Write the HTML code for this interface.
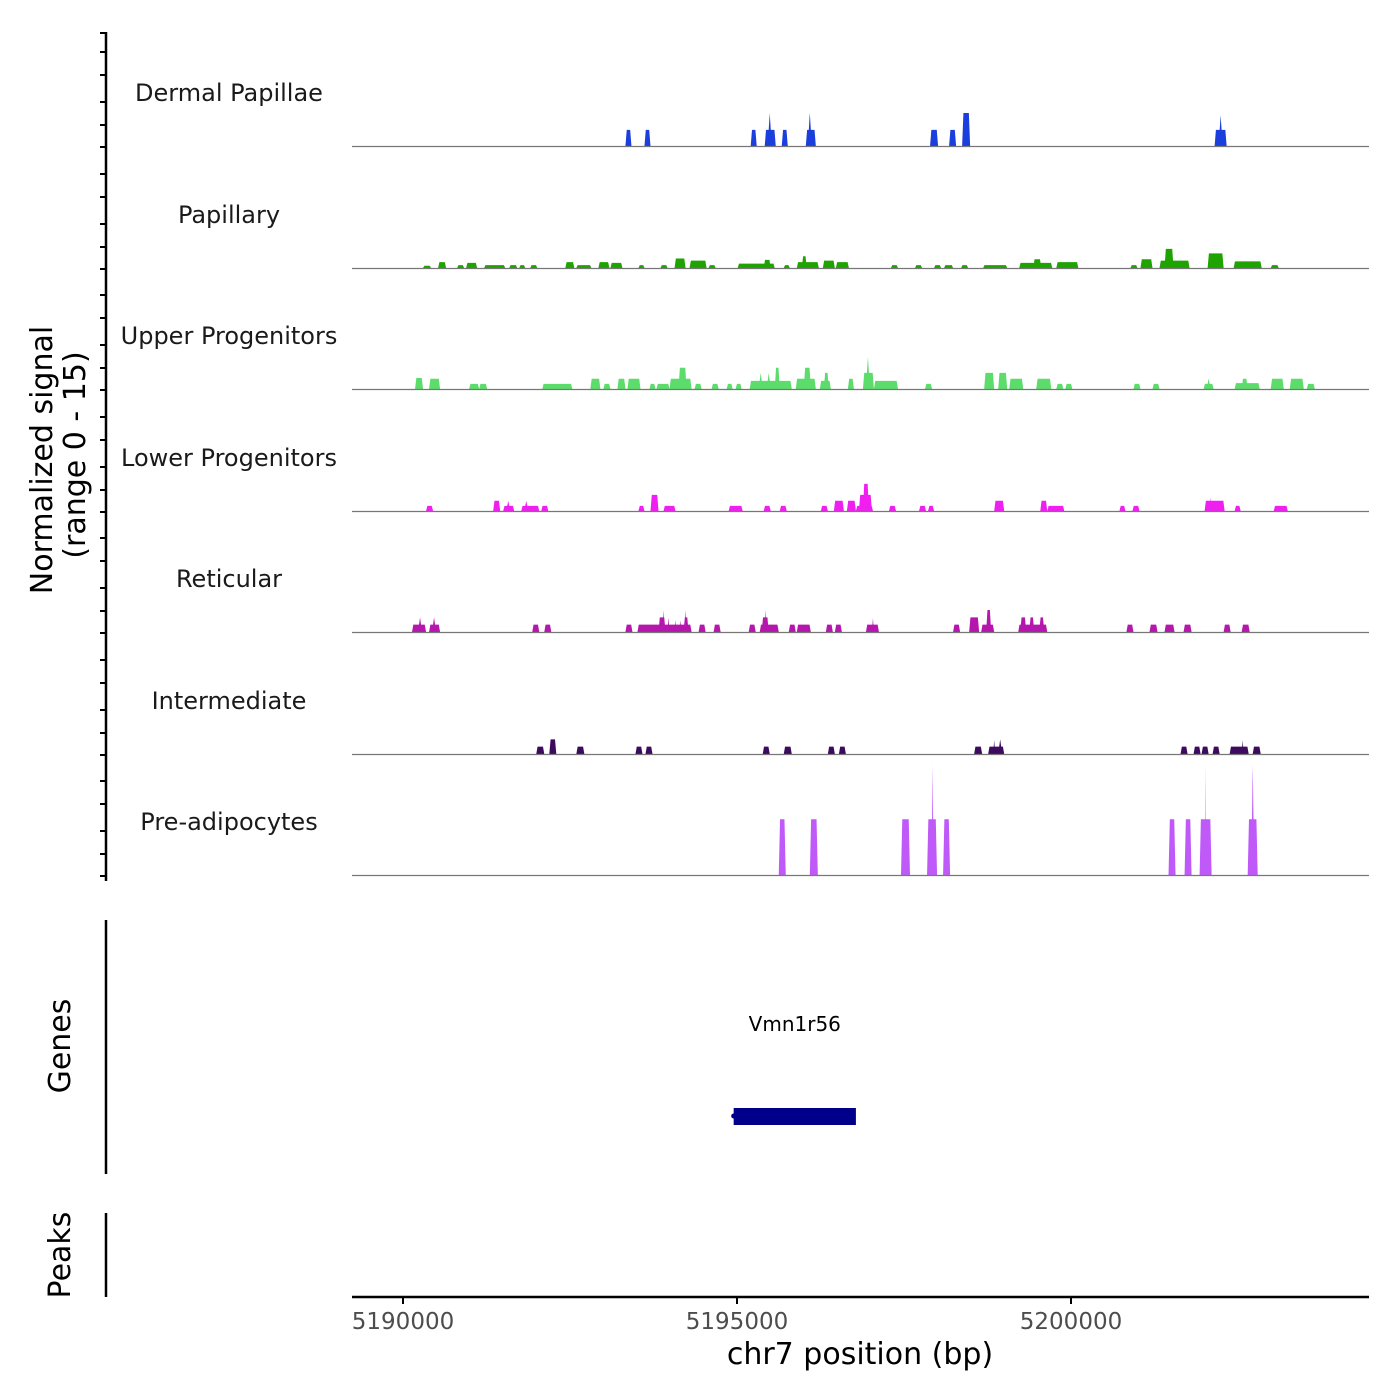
<!DOCTYPE html>
<html><head><meta charset="utf-8"><style>
html,body{margin:0;padding:0;background:#fff;}
svg{display:block;font-family:"DejaVu Sans","Liberation Sans",sans-serif;}
</style></head><body>
<svg id="chart" width="1400" height="1400" viewBox="0 0 1400 1400" xmlns="http://www.w3.org/2000/svg">
<g id="left-axes"></g>
<g id="tracks"></g>
<g id="genes"></g>
<g id="xaxis"></g>
<text x="0" y="0" transform="translate(52,460) rotate(-90)" text-anchor="middle" font-size="30" fill="#000">Normalized signal</text>
<text x="0" y="0" transform="translate(85,455) rotate(-90)" text-anchor="middle" font-size="30" fill="#000">(range 0 - 15)</text>
<text x="0" y="0" transform="translate(70,1046) rotate(-90)" text-anchor="middle" font-size="30" fill="#000">Genes</text>
<text x="0" y="0" transform="translate(70,1255) rotate(-90)" text-anchor="middle" font-size="30" fill="#000">Peaks</text>
</svg>
<script>
const NS = "http://www.w3.org/2000/svg";
// ---- data ----
const xTicks = [5190000, 5195000, 5200000];
const xTickLabels = ["5190000", "5195000", "5200000"];
const trackNames = ["Dermal Papillae","Papillary","Upper Progenitors","Lower Progenitors","Reticular","Intermediate","Pre-adipocytes"];
const trackColors = ["#1a3fdc","#1ea300","#5bdc6b","#f01ef0","#b516ab","#3c0b5e","#bf5af8"];
const yRange = [0, 15];
// peaks: [start bp, end bp, value]
const dermalPeaks = [[5193330,5193420,2.2],[5193615,5193705,2.2],[5195205,5195295,2.2],[5195415,5195580,2.2],[5195460,5195520,4.5],[5195670,5195760,2.2],[5196030,5196180,2.2],[5196060,5196120,4.5],[5197890,5198010,2.2],[5198175,5198280,2.2],[5198370,5198490,4.5],[5202150,5202330,2.2],[5202210,5202270,4.2]];
const papillaryPeaks = [[5190300,5190420,0.3],[5190525,5190645,0.8],[5190810,5190915,0.4],[5190945,5191110,0.7],[5191215,5191530,0.4],[5191590,5191710,0.4],[5191740,5191830,0.4],[5191905,5192010,0.4],[5192430,5192565,0.8],[5192595,5192820,0.4],[5192925,5193090,0.8],[5193105,5193285,0.7],[5193525,5193615,0.4],[5193855,5193960,0.4],[5194065,5194230,1.3],[5194290,5194545,1.0],[5194575,5194680,0.4],[5195010,5195565,0.6],[5195400,5195505,1.1],[5195700,5195790,0.4],[5195895,5196225,0.8],[5195970,5196045,1.6],[5196285,5196465,1.0],[5196480,5196675,0.8],[5197305,5197410,0.4],[5197665,5197770,0.4],[5197950,5198055,0.4],[5198100,5198235,0.4],[5198355,5198460,0.4],[5198685,5199045,0.4],[5199225,5199720,0.7],[5199435,5199555,1.2],[5199780,5200110,0.8],[5200890,5200995,0.4],[5201040,5201220,1.2],[5201325,5201775,1.0],[5201400,5201535,2.6],[5202045,5202285,2.0],[5202435,5202855,0.9],[5202990,5203110,0.4]];
const upperPeaks = [[5190180,5190300,1.5],[5190390,5190555,1.4],[5190990,5191140,0.7],[5191140,5191260,0.7],[5192085,5192535,0.7],[5192805,5192955,1.4],[5193000,5193105,0.7],[5193210,5193330,1.4],[5193360,5193555,1.4],[5193690,5193780,0.7],[5193795,5193990,0.7],[5193990,5194320,1.4],[5194125,5194245,2.9],[5194365,5194470,0.7],[5194620,5194725,0.7],[5194845,5194935,0.7],[5194980,5195070,0.7],[5195190,5195820,1.1],[5195325,5195385,2.2],[5195445,5195505,2.2],[5195565,5195640,2.9],[5195880,5196180,1.4],[5196000,5196105,2.9],[5196240,5196405,1.1],[5196300,5196375,2.2],[5196660,5196750,1.4],[5196885,5197050,2.2],[5196930,5196990,4.4],[5197050,5197410,1.1],[5197815,5197920,0.7],[5198700,5198850,2.2],[5198910,5199045,2.2],[5199075,5199285,1.4],[5199480,5199705,1.4],[5199780,5199885,0.7],[5199915,5200020,0.7],[5200935,5201040,0.7],[5201220,5201325,0.7],[5201985,5202135,0.7],[5202030,5202090,1.4],[5202450,5202825,0.8],[5202555,5202645,1.4],[5202990,5203185,1.4],[5203275,5203485,1.4],[5203530,5203650,0.7]];
const lowerPeaks = [[5190345,5190450,0.7],[5191350,5191455,1.4],[5191500,5191665,0.7],[5191545,5191605,1.4],[5191770,5192040,0.7],[5191815,5191875,1.4],[5192070,5192175,0.7],[5193525,5193615,0.7],[5193705,5193825,2.2],[5193900,5194080,0.7],[5194875,5195085,0.7],[5195400,5195505,0.7],[5195640,5195745,0.7],[5196255,5196360,0.7],[5196450,5196600,1.4],[5196645,5196780,1.4],[5196780,5197035,0.7],[5196825,5197020,2.2],[5196885,5196975,3.7],[5197275,5197380,0.7],[5197725,5197830,0.7],[5197860,5197950,0.7],[5198850,5199000,1.4],[5199540,5199645,1.4],[5199645,5199900,0.7],[5200725,5200815,0.7],[5200920,5201025,0.7],[5202000,5202300,1.4],[5202075,5202105,1.9],[5202450,5202540,0.7],[5203035,5203245,0.7]];
const reticularPeaks = [[5190135,5190345,1.0],[5190225,5190285,2.0],[5190390,5190555,1.0],[5190435,5190495,2.0],[5191935,5192040,1.0],[5192115,5192220,1.0],[5193330,5193435,1.0],[5193510,5194320,1.0],[5193825,5193930,2.0],[5193885,5193915,3.0],[5193960,5193990,2.0],[5194065,5194095,1.6],[5194140,5194170,1.6],[5194200,5194275,2.0],[5194215,5194245,3.0],[5194425,5194530,1.0],[5194650,5194755,1.0],[5195175,5195280,1.0],[5195340,5195625,1.0],[5195370,5195475,2.0],[5195415,5195445,3.0],[5195775,5195880,1.0],[5195895,5196105,1.0],[5196330,5196435,1.0],[5196465,5196570,1.0],[5196930,5197125,1.0],[5197020,5197050,1.9],[5198235,5198340,1.0],[5198475,5198625,2.0],[5198655,5198850,1.0],[5198730,5198805,3.0],[5199210,5199645,1.0],[5199240,5199330,2.0],[5199375,5199450,2.0],[5199525,5199600,2.0],[5200830,5200935,1.0],[5201175,5201295,1.0],[5201400,5201550,1.0],[5201685,5201805,1.0],[5202285,5202390,1.0],[5202555,5202675,1.0]];
const intermediatePeaks = [[5191995,5192115,1.0],[5192190,5192295,2.0],[5192595,5192715,1.0],[5193480,5193585,1.0],[5193630,5193735,1.0],[5195385,5195490,1.0],[5195700,5195820,1.0],[5196360,5196465,1.0],[5196525,5196630,1.0],[5198550,5198670,1.0],[5198760,5199000,1.0],[5198835,5198865,1.9],[5198910,5198970,2.0],[5201640,5201745,1.0],[5201835,5201940,1.0],[5201955,5202060,1.0],[5202120,5202225,1.0],[5202375,5202660,1.0],[5202555,5202585,1.9],[5202720,5202840,1.0]];
const preadipocytePeaks = [[5195625,5195730,7.6],[5196090,5196210,7.6],[5197455,5197590,7.6],[5197845,5197995,7.6],[5197913,5197943,15],[5198085,5198190,7.6],[5201460,5201565,7.6],[5201700,5201805,7.6],[5201925,5202105,7.6],[5202008,5202023,15],[5202645,5202795,7.6],[5202698,5202743,15]];
const allPeaks = [dermalPeaks, papillaryPeaks, upperPeaks, lowerPeaks, reticularPeaks, intermediatePeaks, preadipocytePeaks];
const geneNames = ["Vmn1r56"];
const geneStarts = [5194950];
const geneEnds = [5196780];

// ---- scales / layout ----
const X0 = 352, X1 = 1369;
function xScale(bp){ return 403 + (bp - 5190000) * 334 / 5000; }
const trackBase = [146, 268, 389, 511, 632, 754, 875];
const trackH = 110;
function yScale(v, base){ return base - (v - yRange[0]) / (yRange[1] - yRange[0]) * trackH; }

const tracksG = document.getElementById('tracks');
const axesG = document.getElementById('left-axes');

function mk(tag, attrs, parent){
  const el = document.createElementNS(NS, tag);
  for (const k in attrs) el.setAttribute(k, attrs[k]);
  parent.appendChild(el);
  return el;
}

// left axes
const ax1 = mk('line', {x1:106, y1:32, x2:106, y2:881, stroke:'#000', 'stroke-width':2.5}, axesG);


const tickOffsets = [0, 22, 45, 72, 95];
trackBase.forEach((b) => {
  tickOffsets.forEach((o) => {
    const t = mk('line', {x1:100, y1:b - o + 1, x2:106, y2:b - o + 1, stroke:'#000', 'stroke-width':2}, axesG);
    
    
  });
});
const t0 = mk('line', {x1:100, y1:33, x2:106, y2:33, stroke:'#000', 'stroke-width':2}, axesG);


const ax2 = mk('line', {x1:106, y1:920, x2:106, y2:1174, stroke:'#000', 'stroke-width':2.5}, axesG);


const ax3 = mk('line', {x1:106, y1:1213, x2:106, y2:1297, stroke:'#000', 'stroke-width':2.5}, axesG);



// tracks
allPeaks.forEach((peaks, i) => {
  const base = trackBase[i];
  const g = mk('g', {}, tracksG);
  
  
  const lbl = mk('text', {x:229, y:base - 45, 'text-anchor':'middle', 'font-size':24, fill:'#1a1a1a'}, g);
  lbl.textContent = trackNames[i];
  
  
  peaks.forEach((p) => {
    const xs = xScale(p[0]), xe = xScale(p[1]);
    const w = xe - xs;
    const d = w <= 4.5 ? w / 2 : 1.3;
    const yt = yScale(p[2], base);
    const poly = mk('polygon', {points: `${xs},${base} ${xs + d},${yt} ${xe - d},${yt} ${xe},${base}`, fill: trackColors[i]}, g);
    
    
  });
  const bl = mk('line', {x1:X0, y1:base + 0.5, x2:X1, y2:base + 0.5, stroke:'#777', 'stroke-width':1.2}, g);
  
  
});

// genes
const genesG = document.getElementById('genes');
geneNames.forEach((n, i) => {
  const xs = xScale(geneStarts[i]), xe = xScale(geneEnds[i]);
  const r = mk('rect', {x:xs, y:1108, width:xe - xs, height:17, fill:'#00008b'}, genesG);
  
  
  const c = mk('circle', {cx:xs, cy:1116, r:2.5, fill:'#00008b'}, genesG);
  
  
  const t = mk('text', {x:(xs + xe) / 2, y:1031, 'text-anchor':'middle', 'font-size':20, fill:'#000'}, genesG);
  t.textContent = n;
  
  
});

// x axis
const xg = document.getElementById('xaxis');
const xl = mk('line', {x1:X0, y1:1297, x2:X1, y2:1297, stroke:'#000', 'stroke-width':2.5}, xg);


xTicks.forEach((v, i) => {
  const x = xScale(v);
  const tk = mk('line', {x1:x, y1:1297, x2:x, y2:1304, stroke:'#000', 'stroke-width':2}, xg);
  
  
  const tl = mk('text', {x:x, y:1329, 'text-anchor':'middle', 'font-size':23, fill:'#4d4d4d'}, xg);
  tl.textContent = xTickLabels[i];
  
  
});
const xt = mk('text', {x:860, y:1364, 'text-anchor':'middle', 'font-size':30, fill:'#000'}, xg);
xt.textContent = 'chr7 position (bp)';


</script>
</body></html>
